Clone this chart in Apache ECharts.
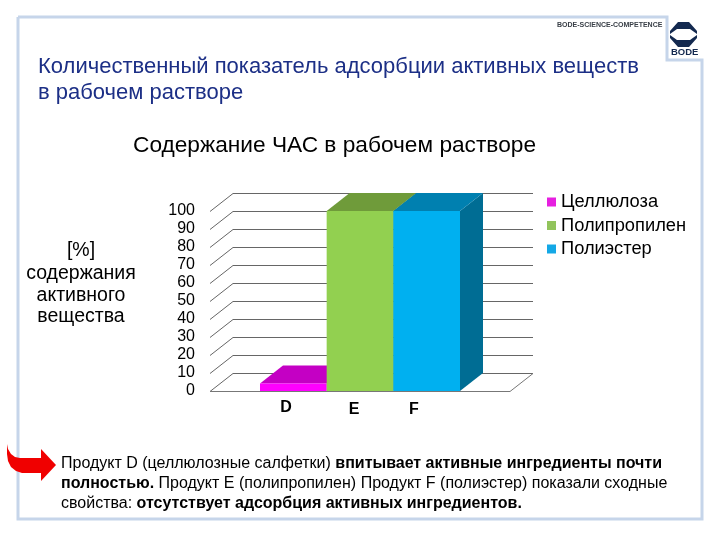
<!DOCTYPE html>
<html><head><meta charset="utf-8">
<style>html,body{margin:0;padding:0;background:#fff}#c{width:720px;height:540px}</style>
<script src="https://cdn.jsdelivr.net/npm/echarts@6/dist/echarts.min.js"></script>
</head><body><div id="c"></div>
<script>
const categories = [''];
const seriesNames = ['Целлюлоза', 'Полипропилен', 'Полиэстер'];
const celluloseValues = [4.2];
const polypropyleneValues = [100];
const polyesterValues = [100];
const productLabels = ['D', 'E', 'F'];
const yTicks = [0,10,20,30,40,50,60,70,80,90,100];
const heading = ['Количественный показатель адсорбции активных веществ', 'в рабочем растворе'];
const chartTitle = 'Содержание ЧАС в рабочем растворе';
const yTitle = ['[%]', 'содержания', 'активного', 'вещества'];

const DX = 23, DY = 18;
const chart = echarts.init(document.getElementById('c'), null, {renderer:'canvas'});
const sans = '"Liberation Sans", Arial, sans-serif';

function wallItem(params, api) {
  const c = params.coordSys;
  const y = api.coord([0, api.value(1)])[1] + 0.5;
  const l = c.x, r = c.x + c.width;
  const children = [{
    type:'polyline',
    shape:{points:[[l,y],[l+DX,y-DY],[r+DX,y-DY]]},
    style:{fill:null, stroke:'#666666', lineWidth:1}
  }];
  if (api.value(1) === 0) children.push({
    type:'polyline',
    shape:{points:[[l,y],[r,y],[r+DX,y-DY]]},
    style:{fill:null, stroke:'#777777', lineWidth:1}
  });
  return {type:'group', children};
}
function bar3d(index, front, top, side) {
  return function(params, api) {
    const base = api.coord([0, 0]);
    const tip = api.coord([0, api.value(1)]);
    const w = api.size([1, 0])[0] * 2 / 9;
    const x0 = base[0] + (index - 1.5) * w, x1 = x0 + w;
    const y0 = base[1], y1 = tip[1];
    return {type:'group', children:[
      {type:'polygon', shape:{points:[[x1,y0],[x1+DX,y0-DY],[x1+DX,y1-DY],[x1,y1]]}, style:{fill:side}},
      {type:'polygon', shape:{points:[[x0,y1],[x0+DX,y1-DY],[x1+DX,y1-DY],[x1,y1]]}, style:{fill:top}},
      {type:'rect', shape:{x:x0,y:y1,width:w,height:y0-y1}, style:{fill:front}}
    ]};
  };
}
const toPairs = vals => vals.map((v,i)=>[i,v]);

const texts = [];
heading.forEach((t,i)=>texts.push({type:'text',left:38,top:56+i*26,style:{text:t,font:'22px '+sans,fill:'#1c2f86'}}));
texts.push({type:'text',left:133,top:134,style:{text:chartTitle,font:'22.7px '+sans,fill:'#000'}});
const yTitleTops = [241,264,286,307];
yTitle.forEach((t,i)=>texts.push({type:'text',x:81,y:yTitleTops[i],style:{text:t,font:'19.5px '+sans,fill:'#000',align:'center'}}));
const labelPos = [[286,408],[354,410],[414,410]];
productLabels.forEach((t,i)=>texts.push({type:'text',x:labelPos[i][0],y:labelPos[i][1],style:{text:t,font:'bold 16px '+sans,fill:'#000',align:'center',verticalAlign:'middle'}}));
const body = [
  [{t:'Продукт D (целлюлозные салфетки) ',b:0},{t:'впитывает активные ингредиенты почти',b:1}],
  [{t:'полностью.',b:1},{t:' Продукт E (полипропилен) Продукт F (полиэстер) показали сходные',b:0}],
  [{t:'свойства: ',b:0},{t:'отсутствует адсорбция активных ингредиентов.',b:1}]
];
body.forEach((line,i)=>texts.push({type:'text',left:61,top:456+i*20,style:{
  text:line.map(p=>(p.b?'{b|':'{r|')+p.t+'}').join(''),
  rich:{r:{font:'16px '+sans,fill:'#000'},b:{font:'bold 16px '+sans,fill:'#000'}}
}}));

chart.setOption({
  animation:false,
  backgroundColor:'#fff',
  grid:{left:210,top:211,width:300,height:180},
  legend:{
    data:seriesNames, orient:'vertical', left:542, top:188,
    icon:'rect', itemWidth:9, itemHeight:9, itemGap:5.5,
    textStyle:{fontFamily:sans,fontSize:18.3,color:'#000'}
  },
  xAxis:{type:'category',data:categories,axisLine:{show:false},axisTick:{show:false},axisLabel:{show:false}},
  yAxis:{type:'value',min:0,max:100,interval:10,splitLine:{show:false},axisLine:{show:false},axisTick:{show:false},
    axisLabel:{fontFamily:sans,fontSize:16,color:'#000',margin:15}},
  series:[
    {type:'custom',name:'walls',silent:true,z:1,clip:false,data:yTicks.map(v=>[0,v]),renderItem:wallItem,encode:{x:0,y:1}},
    {type:'custom',name:seriesNames[0],z:2,itemStyle:{color:'#e61fe0'},data:toPairs(celluloseValues),encode:{x:0,y:1},renderItem:bar3d(0,'#ff00ff','#c400c4','#a000a0')},
    {type:'custom',name:seriesNames[1],z:3,itemStyle:{color:'#92c45c'},data:toPairs(polypropyleneValues),encode:{x:0,y:1},renderItem:bar3d(1,'#92d050','#6f9b3a','#5f8a30')},
    {type:'custom',name:seriesNames[2],z:4,itemStyle:{color:'#14a8e6'},data:toPairs(polyesterValues),encode:{x:0,y:1},renderItem:bar3d(2,'#00b0f0','#0080b0','#006d94')}
  ],
  graphic:[
    {type:'polyline',silent:true,z:-1,shape:{points:[[18,17],[667,17],[667,60],[702,60],[702,519],[18,519],[18,17]]},style:{fill:null,stroke:'#c6d5ea',lineWidth:3}},
    {type:'text',left:557,top:22,style:{text:'BODE-SCIENCE-COMPETENCE',font:'bold 7px '+sans,fill:'#3a4048'}},
    {type:'polygon',silent:true,shape:{points:[[670,31],[678,22],[689,22],[697,31],[697,34],[690,29],[677,29],[670,34]]},style:{fill:'#13294f'}},
    {type:'polygon',silent:true,shape:{points:[[670,38],[678,47],[689,47],[697,38],[697,35],[690,40],[677,40],[670,35]]},style:{fill:'#13294f'}},
    {type:'text',left:671,top:47,style:{text:'BODE',font:'bold 9.5px '+sans,fill:'#13294f'}},
    {type:'polygon',silent:true,shape:{points:[[7,444],[8,449],[11,454],[15,457],[20,458],[41,458],[41,449],[56,465],[41,481],[41,473],[22,473],[16,471],[11,467],[8,461],[7,454]]},style:{fill:'#f00000'}},
    ...texts
  ]
});
</script></body></html>
